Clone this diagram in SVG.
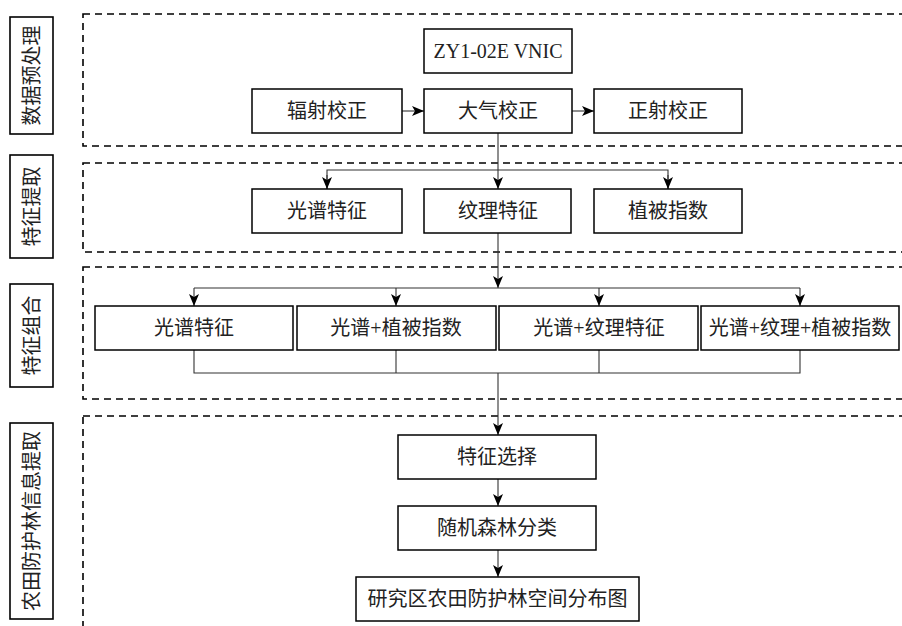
<svg xmlns="http://www.w3.org/2000/svg" width="902" height="626" viewBox="0 0 902 626">
<style>
.lbl{fill:#fff;stroke:#000;stroke-width:1.6}
.node{fill:#fff;stroke:#000;stroke-width:1.5}
.dash{fill:none;stroke:#000;stroke-width:1.6;stroke-dasharray:7 5}
.t{font-family:"Liberation Serif","Noto Sans CJK SC",serif;font-size:20px;fill:#222;text-anchor:middle;dominant-baseline:central}
.c{fill:none;stroke:#333;stroke-width:1.1}
</style>
<defs>
<marker id="ah" markerUnits="userSpaceOnUse" markerWidth="14" markerHeight="12" refX="12" refY="5" orient="auto">
<path d="M0,0 L12,5 L0,10 L3,5 z" fill="#000"/>
</marker>
</defs>
<rect width="902" height="626" fill="#fff"/>

<g id="sections">
<rect class="dash" x="83" y="14" width="830" height="132"/>
<rect class="dash" x="83" y="163" width="830" height="89"/>
<rect class="dash" x="83" y="267" width="830" height="132"/>
<rect class="dash" x="83" y="416" width="830" height="230"/>
</g>

<g id="label1"><rect class="lbl" x="10" y="17" width="43" height="117"/><text class="t" transform="translate(31.5,75.5) rotate(-90)">数据预处理</text></g>
<g id="label2"><rect class="lbl" x="10" y="155" width="43" height="103"/><text class="t" transform="translate(31.5,206.5) rotate(-90)">特征提取</text></g>
<g id="label3"><rect class="lbl" x="10" y="284" width="43" height="103"/><text class="t" transform="translate(31.5,335.5) rotate(-90)">特征组合</text></g>
<g id="label4"><rect class="lbl" x="10" y="423" width="43" height="196"/><text class="t" transform="translate(31.5,521) rotate(-90)">农田防护林信息提取</text></g>

<g id="connectors">
<line class="c" x1="402" y1="111" x2="424" y2="111" marker-end="url(#ah)"/>
<line class="c" x1="572" y1="111" x2="594" y2="111" marker-end="url(#ah)"/>
<line class="c" x1="498" y1="133" x2="498" y2="189" marker-end="url(#ah)"/>
<polyline class="c" points="327,189 327,170 668,170 668,189"/>
<line class="c" x1="327" y1="175" x2="327" y2="189" marker-end="url(#ah)"/>
<line class="c" x1="668" y1="175" x2="668" y2="189" marker-end="url(#ah)"/>
<line class="c" x1="498" y1="233" x2="498" y2="288" marker-end="url(#ah)"/>
<line class="c" x1="194" y1="288" x2="800" y2="288"/>
<line class="c" x1="194" y1="288" x2="194" y2="306" marker-end="url(#ah)"/>
<line class="c" x1="396" y1="288" x2="396" y2="306" marker-end="url(#ah)"/>
<line class="c" x1="599" y1="288" x2="599" y2="306" marker-end="url(#ah)"/>
<line class="c" x1="800" y1="288" x2="800" y2="306" marker-end="url(#ah)"/>
<polyline class="c" points="194,350 194,373 800,373 800,350"/>
<line class="c" x1="396" y1="350" x2="396" y2="373"/>
<line class="c" x1="599" y1="350" x2="599" y2="373"/>
<line class="c" x1="498" y1="373" x2="498" y2="435" marker-end="url(#ah)"/>
<line class="c" x1="498" y1="479" x2="498" y2="506" marker-end="url(#ah)"/>
<line class="c" x1="498" y1="550" x2="498" y2="577" marker-end="url(#ah)"/>
</g>

<g id="n_zy"><rect class="node" x="424" y="29" width="148" height="44"/><text class="t" x="498" y="51">ZY1-02E VNIC</text></g>
<g id="n_fs"><rect class="node" x="252" y="89" width="150" height="44"/><text class="t" x="327" y="111">辐射校正</text></g>
<g id="n_dq"><rect class="node" x="424" y="89" width="148" height="44"/><text class="t" x="498" y="111">大气校正</text></g>
<g id="n_zs"><rect class="node" x="594" y="89" width="148" height="44"/><text class="t" x="668" y="111">正射校正</text></g>

<g id="n_gp"><rect class="node" x="252" y="189" width="150" height="44"/><text class="t" x="327" y="211">光谱特征</text></g>
<g id="n_wl"><rect class="node" x="424" y="189" width="147" height="44"/><text class="t" x="498" y="211">纹理特征</text></g>
<g id="n_zb"><rect class="node" x="594" y="189" width="148" height="44"/><text class="t" x="668" y="211">植被指数</text></g>

<g id="n_c1"><rect class="node" x="95" y="306" width="198" height="44"/><text class="t" x="194" y="328">光谱特征</text></g>
<g id="n_c2"><rect class="node" x="297" y="306" width="199" height="44"/><text class="t" x="396" y="328">光谱+植被指数</text></g>
<g id="n_c3"><rect class="node" x="499" y="306" width="199" height="44"/><text class="t" x="599" y="328">光谱+纹理特征</text></g>
<g id="n_c4"><rect class="node" x="701" y="306" width="198" height="44"/><text class="t" x="800" y="328">光谱+纹理+植被指数</text></g>

<g id="n_xz"><rect class="node" x="398" y="435" width="198" height="44"/><text class="t" x="497" y="457">特征选择</text></g>
<g id="n_rf"><rect class="node" x="398" y="506" width="198" height="44"/><text class="t" x="497" y="528">随机森林分类</text></g>
<g id="n_map"><rect class="node" x="356" y="577" width="283" height="44"/><text class="t" x="497.5" y="599">研究区农田防护林空间分布图</text></g>
</svg>
